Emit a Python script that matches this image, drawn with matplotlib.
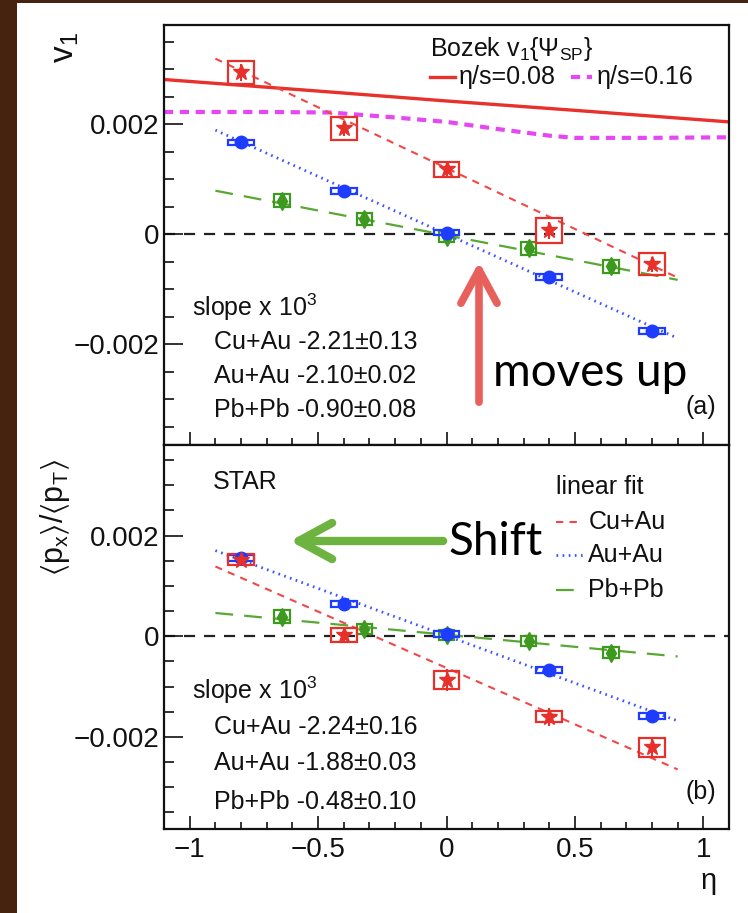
import numpy as np
import matplotlib
matplotlib.use('Agg')
import matplotlib.pyplot as plt
from matplotlib.patches import Rectangle
from matplotlib.ticker import MultipleLocator, FuncFormatter

plt.rcParams['font.family'] = ['Liberation Sans', 'DejaVu Sans']
plt.rcParams['mathtext.fontset'] = 'custom'
plt.rcParams['mathtext.rm'] = 'Liberation Sans'
plt.rcParams['mathtext.it'] = 'Liberation Sans:italic'
plt.rcParams['mathtext.default'] = 'regular'

# pseudorapidity bins
eta = [-0.8, -0.4, 0.0, 0.4, 0.8]
eta_pb = [-0.64, -0.32, 0.0, 0.32, 0.64]

# (a) directed flow v1
v1_cuau = [0.00294, 0.00192, 0.00118, 0.00007, -0.00055]
v1_cuau_stat = [0.00015, 0.00014, 0.00012, 0.00015, 0.00014]
v1_cuau_sys = [0.00021, 0.00021, 0.00014, 0.00023, 0.00020]
v1_auau = [0.00167, 0.00078, 0.00003, -0.00078, -0.00176]
v1_auau_stat = [0.00003, 0.00003, 0.00003, 0.00003, 0.00003]
v1_auau_sys = [0.00005, 0.00005, 0.00005, 0.00005, 0.00005]
v1_pbpb = [0.00061, 0.00027, -0.00005, -0.00026, -0.00058]
v1_pbpb_stat = [0.00009, 0.00008, 0.00008, 0.00008, 0.00009]
v1_pbpb_sys = [0.00012, 0.00011, 0.00010, 0.00011, 0.00012]

# (b) <px>/<pT>
px_cuau = [0.00152, 0.00002, -0.00087, -0.00160, -0.00221]
px_cuau_stat = [0.00012, 0.00014, 0.00022, 0.00018, 0.00020]
px_cuau_sys = [0.00011, 0.00014, 0.00017, 0.00011, 0.00019]
px_auau = [0.00155, 0.00065, 0.00004, -0.00067, -0.00159]
px_auau_stat = [0.00003, 0.00003, 0.00003, 0.00003, 0.00003]
px_auau_sys = [0.00006, 0.00006, 0.00006, 0.00006, 0.00006]
px_pbpb = [0.00039, 0.00015, 0.00002, -0.00009, -0.00033]
px_pbpb_stat = [0.00008, 0.00008, 0.00008, 0.00008, 0.00008]
px_pbpb_sys = [0.00013, 0.00010, 0.00010, 0.00010, 0.00011]

# linear fits (slope x 10^3 with error, intercept)
systems = ['Cu+Au', 'Au+Au', 'Pb+Pb']
slope_v1 = [-2.21, -2.10, -0.90]
slope_v1_err = [0.13, 0.02, 0.08]
icpt_v1 = [0.0012, 0.0, -0.00002]
slope_px = [-2.24, -1.88, -0.48]
slope_px_err = [0.16, 0.03, 0.10]
icpt_px = [-0.00063, 0.00001, 0.00003]
fit_eta = np.array([-0.9, 0.9])

# Bozek hydro v1{Psi_SP}
bozek_eta_08 = [-1.1, -0.5, 0.0, 0.5, 1.1]
bozek_v1_08 = [0.00281, 0.00260, 0.00242, 0.00225, 0.00204]
bozek_eta_16 = [-1.1, -0.7, -0.45, -0.2, 0.0, 0.2, 0.4, 0.5, 0.8, 1.1]
bozek_v1_16 = [0.00222, 0.00222, 0.00221, 0.00212, 0.00204, 0.00191, 0.00179,
               0.00175, 0.00175, 0.00176]

RED = '#e8302a'
BLUE = '#1e3cff'
GREEN = '#3d9a1e'
fit_style = {
    'Cu+Au': dict(color='#f04848', lw=1.5, ls=(0, (3.5, 3))),
    'Au+Au': dict(color='#3b52ff', lw=2.0, ls=(0, (0.6, 1.6))),
    'Pb+Pb': dict(color='#58a833', lw=1.6, ls=(0, (8, 5))),
}

fig = plt.figure(figsize=(7.48, 9.13), dpi=100)
fig.patch.set_facecolor('#46230f')
fig.add_artist(Rectangle((17 / 748, 0), 1, 1 - 3 / 913, transform=fig.transFigure,
                         facecolor='white', edgecolor='none', zorder=-10))

ax1 = fig.add_axes([0.2193, 0.5126, 0.7553, 0.4600])
ax2 = fig.add_axes([0.2193, 0.0920, 0.7553, 0.4206], sharex=ax1)


def draw_points(ax, x, y, stat, sys, half_w, color, marker, ms):
    for xi, yi, si in zip(x, y, sys):
        ax.add_patch(Rectangle((xi - half_w, yi - si), 2 * half_w, 2 * si,
                               fill=False, ec=color, lw=1.6, zorder=3))
    ax.errorbar(x, y, yerr=stat, fmt=marker, color=color, ms=ms, mec=color,
                elinewidth=1.5, capsize=0, zorder=4)


def fmt_y(v, pos):
    if abs(v) < 1e-9:
        return '0'
    return f'{v:.3f}'.replace('-', '\u2212')


def fmt_x(v, pos):
    if abs(v) < 1e-9:
        return '0'
    s = f'{v:.0f}' if abs(v - round(v)) < 1e-9 else f'{v:.1f}'
    return s.replace('-', '\u2212')


def style_axes(ax, show_x):
    ax.set_xlim(-1.1, 1.1)
    ax.set_ylim(-0.00383, 0.0038)
    ax.xaxis.set_major_locator(MultipleLocator(0.5))
    ax.xaxis.set_minor_locator(MultipleLocator(0.1))
    ax.yaxis.set_major_locator(MultipleLocator(0.002))
    ax.yaxis.set_minor_locator(MultipleLocator(0.0005))
    ax.yaxis.set_major_formatter(FuncFormatter(fmt_y))
    ax.xaxis.set_major_formatter(FuncFormatter(fmt_x))
    ax.tick_params(which='both', direction='in', top=False, right=False,
                   width=1.2, labelsize=20, colors='#111111')
    ax.tick_params(axis='y', which='major', length=14, pad=3)
    ax.tick_params(axis='y', which='minor', length=7.5)
    ax.tick_params(axis='x', which='major', length=9.5, pad=6)
    ax.tick_params(axis='x', which='minor', length=5)
    ax.tick_params(axis='x', labelbottom=show_x)
    for sp in ax.spines.values():
        sp.set_linewidth(1.6)
        sp.set_color('#111111')
    ax.axhline(0, color='#222222', lw=1.6, ls=(0, (5, 4)), zorder=1)


def draw_panel(ax, cuau, cuau_stat, cuau_sys, auau, auau_stat, auau_sys,
               pbpb, pbpb_stat, pbpb_sys, slopes, errs, icpts):
    for name, s, b in zip(systems, slopes, icpts):
        ax.plot(fit_eta, b + s * 1e-3 * fit_eta, zorder=2, **fit_style[name])
    draw_points(ax, eta_pb, pbpb, pbpb_stat, pbpb_sys, 0.03, GREEN, 'd', 9)
    draw_points(ax, eta, auau, auau_stat, auau_sys, 0.05, BLUE, 'o', 9)
    draw_points(ax, eta, cuau, cuau_stat, cuau_sys, 0.05, RED, '*', 12)
    return [f'{n} {s:.2f}\u00b1{e:.2f}' for n, s, e in zip(systems, slopes, errs)]


style_axes(ax1, False)
style_axes(ax2, True)

# --- panel (a)
ax1.plot(bozek_eta_08, bozek_v1_08, color='#e8312b', lw=2.4, zorder=2)
ax1.plot(bozek_eta_16, bozek_v1_16, color='#e548f2', lw=3.0, ls=(0, (2.2, 1.6)), zorder=2)
labels_a = draw_panel(ax1, v1_cuau, v1_cuau_stat, v1_cuau_sys, v1_auau, v1_auau_stat,
                      v1_auau_sys, v1_pbpb, v1_pbpb_stat, v1_pbpb_sys,
                      slope_v1, slope_v1_err, icpt_v1)
txt = dict(fontsize=18, color='#111111', transform=ax1.transAxes, va='center')
ax1.text(0.05, 0.329, 'slope x 10$^{3}$', **txt)
for lab, yy in zip(labels_a, [0.245, 0.164, 0.083]):
    ax1.text(0.089, yy, lab, **txt)
ax1.text(0.977, 0.09, '(a)', ha='right', **txt)

ax1.text(0.471, 0.943, r'Bozek v$_{1}\{\Psi_{SP}\}$', **txt)
ax1.plot([0.471, 0.515], [0.876, 0.876], transform=ax1.transAxes,
         color='#e8312b', lw=2.4)
ax1.text(0.522, 0.876, '\u03b7/s=0.08', **txt)
ax1.plot([0.721, 0.758], [0.876, 0.876], transform=ax1.transAxes,
         color='#e548f2', lw=3.0, ls=(0, (2.2, 1.6)))
ax1.text(0.765, 0.876, '\u03b7/s=0.16', **txt)

# --- panel (b)
labels_b = draw_panel(ax2, px_cuau, px_cuau_stat, px_cuau_sys, px_auau, px_auau_stat,
                      px_auau_sys, px_pbpb, px_pbpb_stat, px_pbpb_sys,
                      slope_px, slope_px_err, icpt_px)
txt['transform'] = ax2.transAxes
ax2.text(0.086, 0.904, 'STAR', **txt)
ax2.text(0.05, 0.362, 'slope x 10$^{3}$', **txt)
for lab, yy in zip(labels_b, [0.266, 0.172, 0.070]):
    ax2.text(0.089, yy, lab, **txt)
ax2.text(0.977, 0.096, '(b)', ha='right', **txt)

ax2.text(0.694, 0.891, 'linear fit', **txt)
for name, yy in zip(systems, [0.799, 0.714, 0.622]):
    ax2.plot([0.694, 0.741], [yy, yy], transform=ax2.transAxes, **fit_style[name])
    ax2.text(0.751, yy, name, **txt)

ax2.text(0.963, -0.1, '\u03b7', fontsize=21, ha='center', va='top',
         transform=ax2.transAxes, color='#111111')
fig.text(0.0869, 0.9474, 'v$_{1}$', fontsize=24, rotation=90, ha='center',
         va='center', color='#111111')
fig.text(0.0735, 0.4326, r'$\langle p_{x}\rangle/\langle p_{T}\rangle$', fontsize=22,
         rotation=90, ha='center', va='center', color='#111111')

# overlaid arrows and notes
ax1.annotate('', xy=(0.5575, 0.436), xytext=(0.5575, 0.102), xycoords='axes fraction',
             arrowprops=dict(arrowstyle='->,head_length=2.4,head_width=1.3',
                             mutation_scale=10, lw=5.5, color='#e8605c',
                             shrinkA=0, shrinkB=0, capstyle='round',
                             joinstyle='round'), zorder=6)
ax1.text(0.582, 0.14, 'moves up', fontsize=33, family='Lato', color='black',
         transform=ax1.transAxes, va='baseline', zorder=6)
ax2.annotate('', xy=(0.223, 0.75), xytext=(0.494, 0.75), xycoords='axes fraction',
             arrowprops=dict(arrowstyle='->,head_length=2.4,head_width=1.3',
                             mutation_scale=10, lw=6, color='#6db33f',
                             shrinkA=0, shrinkB=0, capstyle='round',
                             joinstyle='round'), zorder=6)
ax2.text(0.503, 0.714, 'Shift', fontsize=33, family='Lato', color='black',
         transform=ax2.transAxes, va='baseline', zorder=6)

fig.savefig('out.png', dpi=100, facecolor=fig.get_facecolor())
